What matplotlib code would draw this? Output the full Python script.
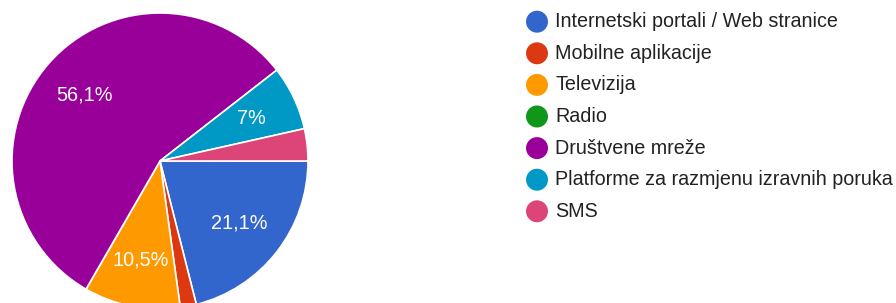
import matplotlib.pyplot as plt

# Google Forms pie: responses per source of news
labels = ["Internetski portali / Web stranice", "Mobilne aplikacije", "Televizija",
          "Radio", "Društvene mreže", "Platforme za razmjenu izravnih poruka", "SMS"]
counts = [12, 1, 6, 0, 32, 4, 2]
colors = ["#3366cc", "#dc3912", "#ff9900", "#109618", "#990099", "#0099c6", "#dd4477"]

plt.rcParams['font.family'] = ['Liberation Sans', 'DejaVu Sans']

W, H = 896, 303
fig = plt.figure(figsize=(W / 100, H / 100), dpi=100)

# pie axes: center (160,161) px, radius 148 px
cx, cy, r = 160, 161, 148
ax = fig.add_axes([(cx - r) / W, (H - cy - r) / H, 2 * r / W, 2 * r / H])


def fmt(p):
    if p < 5:
        return ''
    s = "%.1f" % p
    if s.endswith(".0"):
        s = s[:-2]
    return s.replace(".", ",") + "%"


ax.pie(counts, colors=colors, startangle=0, counterclock=False,
       autopct=fmt, pctdistance=0.68,
       wedgeprops=dict(edgecolor='white', linewidth=1.2),
       textprops=dict(color='white', fontsize=14.3))
ax.set_xlim(-1, 1)
ax.set_ylim(-1, 1)
ax.set_aspect('equal')
ax.axis('off')

# legend drawn in pixel coordinates
lax = fig.add_axes([0, 0, 1, 1])
lax.set_xlim(0, W)
lax.set_ylim(H, 0)
lax.axis('off')
y0, dy = 21.7, 31.6
for i, (lab, c) in enumerate(zip(labels, colors)):
    y = y0 + i * dy
    lax.scatter([537], [y], s=250, color=c, edgecolors='none')
    lax.text(555, y, lab, fontsize=14.2, color='#222222', va='center', ha='left')

fig.savefig("out.png", dpi=100)
